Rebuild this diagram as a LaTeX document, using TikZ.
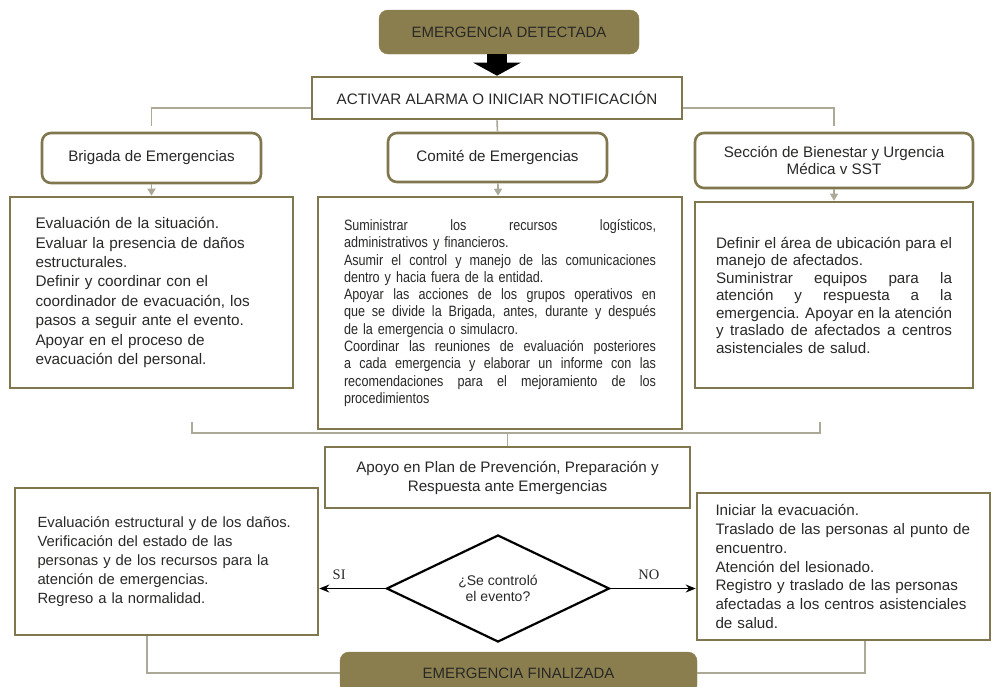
\documentclass[tikz,border=0pt]{standalone}
\usepackage{fontspec}
\setmainfont{Liberation Sans}
\newfontfamily\serifetiq{Liberation Serif}
\newfontfamily\angosta[FakeStretch=0.84]{Liberation Sans}
\usetikzlibrary{arrows.meta,shapes.geometric}
\definecolor{oliva}{RGB}{139,126,78}
\definecolor{borde}{RGB}{128,119,78}
\definecolor{linea}{RGB}{172,169,152}
\definecolor{texto}{RGB}{40,40,38}
\newcommand{\llena}[1]{{\spaceskip=0pt\xspaceskip=0pt\makebox[\linewidth][s]{#1}}}
\tikzset{
    caja/.style={draw=borde, line width=2.6pt, text=texto, font=\fontsize{15.2}{19}\selectfont},
    redonda/.style={caja, rounded corners=9pt},
    oscura/.style={fill=oliva, draw=oliva, rounded corners=9pt, text=texto, font=\fontsize{15}{18}\selectfont},
    conector/.style={draw=linea, line width=1.6pt},
    flecha/.style={conector, -{Triangle[width=8pt,length=7pt]}},
    decision/.style={line width=1.3pt, -{Stealth[width=8pt,length=10pt]}},
    etiqueta/.style={font=\serifetiq\fontsize{14.5}{16}\selectfont, text=texto},
}
\begin{document}
\begin{tikzpicture}[x=1pt, y=-1pt]
    \useasboundingbox (0,0) rectangle (992,686);
    \node[oscura, minimum width=260, minimum height=44]  (det) at (509,32) {EMERGENCIA DETECTADA};
    \node[caja, minimum width=370, minimum height=42]    (act) at (497,98) {ACTIVAR ALARMA O INICIAR NOTIFICACIÓN};
    \draw[line width=20pt, -{Triangle[width=47pt,length=13pt]}] (act.north |- det.south) -- (act.north);

    \node[redonda, minimum width=219, minimum height=50] (brig) at (151.5,158) {Brigada de Emergencias};
    \node[redonda, minimum width=219, minimum height=49] (com)  at (497.5,157.5) {Comité de Emergencias};
    \node[redonda, minimum width=278, minimum height=55, align=center, font=\fontsize{15.2}{17}\selectfont]
                                                         (sec)  at (834,160.5) {Sección de Bienestar y Urgencia\\Médica v SST};
    \draw[conector] ([yshift=6pt]brig.north) |- ([yshift=-10pt]act.west);
    \draw[conector] ([yshift=6pt]sec.north)  |- ([yshift=-10pt]act.east);
    \draw[conector] (act.south) -- (com.north);

    \node[caja, minimum width=283, minimum height=191, text width=232, align=left, font=\fontsize{15.3}{19.4}\selectfont]
        (lbox) at (151.5,292.5) {Evaluación de la situación.\\
        Evaluar la presencia de daños\\
        estructurales.\\
        Definir y coordinar con el\\
        coordinador de evacuación, los\\
        pasos a seguir ante el evento.\\
        Apoyar en el proceso de\\
        evacuación del personal.};
    \node[caja, minimum width=364, minimum height=232, text width=312, align=left, font=\angosta\fontsize{15}{17.3}\selectfont]
        (cbox) at (500,313) {\llena{Suministrar los recursos logísticos,}\\
        administrativos y financieros.\\
        \llena{Asumir el control y manejo de las comunicaciones}\\
        dentro y hacia fuera de la entidad.\\
        \llena{Apoyar las acciones de los grupos operativos en}\\
        \llena{que se divide la Brigada, antes, durante y después}\\
        de la emergencia o simulacro.\\
        \llena{Coordinar las reuniones de evaluación posteriores}\\
        \llena{a cada emergencia y elaborar un informe con las}\\
        \llena{recomendaciones para el mejoramiento de los}\\
        procedimientos};
    \node[caja, minimum width=278, minimum height=186, text width=236, align=left, font=\fontsize{15.2}{17.5}\selectfont]
        (rbox) at (834,295) {\llena{Definir el área de ubicación para el}\\
        manejo de afectados.\\
        \llena{Suministrar equipos para la}\\
        \llena{atención y respuesta a la}\\
        \llena{emergencia. Apoyar en la atención}\\
        \llena{y traslado de afectados a centros}\\
        asistenciales de salud.};
    \draw[flecha] (brig) -- (lbox);
    \draw[flecha] (com)  -- (cbox);
    \draw[flecha] (sec)  -- (rbox);

    \node[caja, minimum width=365, minimum height=61, align=center] (apoyo) at (507.5,477.5)
        {Apoyo en Plan de Prevención, Preparación y\\Respuesta ante Emergencias};
    \coordinate (ci) at (192,422);
    \coordinate (cd) at (820,422);
    \draw[conector] (ci) -- ++(0,11) -| (cd);
    \draw[conector] (apoyo.north) -- ++(0,-14);

    \node[draw, diamond, line width=2.2pt, aspect=2.08, minimum width=223, minimum height=107, inner sep=1pt,
          align=center, text=texto, font=\fontsize{14}{15.5}\selectfont] (dec) at (498,588.5) {¿Se controló\\el evento?};
    \node[caja, minimum width=303, minimum height=147, text width=258, align=left, font=\fontsize{14.8}{19}\selectfont]
        (sibox) at (166.5,561.5) {Evaluación estructural y de los daños.\\
        Verificación del estado de las\\
        personas y de los recursos para la\\
        atención de emergencias.\\
        Regreso a la normalidad.};
    \node[caja, minimum width=293, minimum height=147, text width=256, align=left, font=\fontsize{15.2}{18.8}\selectfont]
        (nobox) at (843.5,566.5) {Iniciar la evacuación.\\
        Traslado de las personas al punto de\\
        encuentro.\\
        Atención del lesionado.\\
        Registro y traslado de las personas\\
        afectadas a los centros asistenciales\\
        de salud.};
    \draw[decision] (dec.west) -- (dec.west -| sibox.east) node[pos=0.7, above=5pt, etiqueta] {SI};
    \draw[decision] (dec.east) -- (dec.east -| nobox.west) node[pos=0.45, above=5pt, etiqueta] {NO};

    \node[oscura, minimum width=357, minimum height=42] (fin) at (518.5,673) {EMERGENCIA FINALIZADA};
    \draw[conector] ([xshift=-19.5pt]sibox.south) |- (fin.west);
    \draw[conector] ([xshift=21.5pt]nobox.south)  |- (fin.east);
\end{tikzpicture}
\end{document}
